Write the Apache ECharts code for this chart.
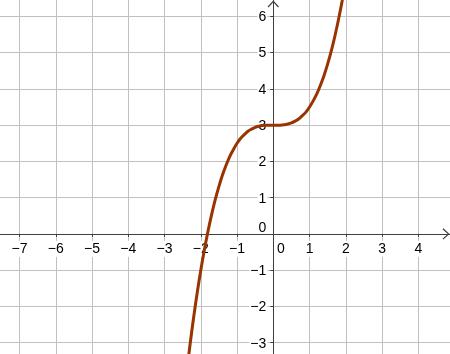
<!DOCTYPE html>
<html><head><meta charset="utf-8">
<script src="https://cdn.jsdelivr.net/npm/echarts@6/dist/echarts.min.js"></script>
<style>html,body{margin:0;padding:0;background:#fff}#c{width:450px;height:354px}</style>
</head><body><div id="c"></div>
<script>
// curve points
const xValues = [-2.4,-2.3,-2.2,-2.1,-2.0,-1.9,-1.8,-1.7,-1.6,-1.5,-1.4,-1.3,-1.2,-1.1,-1.0,-0.9,-0.8,-0.7,-0.6,-0.5,-0.4,-0.3,-0.2,-0.1,0,0.1,0.2,0.3,0.4,0.5,0.6,0.7,0.8,0.9,1.0,1.1,1.2,1.3,1.4,1.5,1.6,1.7,1.8,1.9,2.0];
const yValues = [-3.91,-3.08,-2.32,-1.63,-1.0,-0.43,0.08,0.54,0.95,1.31,1.63,1.90,2.14,2.33,2.5,2.64,2.74,2.83,2.89,2.94,2.97,2.99,3.0,3.0,3.0,3.0,3.0,3.01,3.03,3.06,3.11,3.17,3.26,3.36,3.5,3.67,3.86,4.10,4.37,4.69,5.05,5.46,5.92,6.43,7.0];
const xTickLabels = [-7,-6,-5,-4,-3,-2,-1,0,1,2,3,4];
const yTickLabels = [-3,-2,-1,0,1,2,3,4,5,6];

const FONT = '"Liberation Sans", Arial, sans-serif';
const AX = '#404040';
const GRIDC = '#c0c0c0';
const X0 = 273.3, Y0 = 233.9;          // pixel position of the origin
const XMIN = -7.539, XMAX = 4.875, YMIN = -3.313, YMAX = 6.452;
const curve = xValues.map((x, i) => [x, yValues[i]]);
const fmt = v => (v < 0 ? '\u2212' + Math.abs(v) : String(v));
const tok = {fontSize: 14, fontFamily: FONT, color: '#000'};
const chevron = 'path://M5,0 L10,5.4 L9.2,6.2 L5,1.5 L0.8,6.2 L0,5.4 Z';
const xTickVals = xTickLabels.filter(v => v !== 0);
const yTickVals = yTickLabels.filter(v => v !== 0);
const lblFmt = v => (Math.abs(v) < 1e-9 ? '{z|0}' : '{b|' + fmt(Math.round(v)) + '}');
const hidden = {show: false, axisLine: {show: false}, axisTick: {show: false}, axisLabel: {show: false}, splitLine: {show: false}};
const G = o => Object.assign({outerBoundsMode: 'none', containLabel: false}, o);

const chart = echarts.init(document.getElementById('c'), null, {renderer: 'canvas'});
chart.setOption({
  backgroundColor: '#fff',
  animation: false,
  grid: [
    G({left: -16.7, right: -4.55, top: -19.85, bottom: -24.9}),   // gridlines + curve
    G({left: 0, right: 0, top: 0, bottom: 354 - Y0}),              // x axis
    G({left: X0, right: 0, top: 0, bottom: 0})                     // y axis
  ],
  xAxis: [
    {
      type: 'value', gridIndex: 0, min: -8, max: 5, interval: 1,
      axisLine: {show: false}, axisTick: {show: false}, axisLabel: {show: false},
      splitLine: {show: true, lineStyle: {color: GRIDC, width: 1}}
    },
    {
      type: 'value', gridIndex: 1, min: XMIN, max: XMAX, position: 'bottom',
      axisLine: {show: true, onZero: false, symbol: ['none', chevron], symbolSize: [13, 7], symbolOffset: [0, -4], lineStyle: {color: AX, width: 1}},
      axisTick: {show: true, length: 3, inside: false, customValues: xTickVals, lineStyle: {color: AX}},
      splitLine: {show: false},
      axisLabel: {
        show: true, margin: 7, hideOverlap: false, customValues: xTickLabels, formatter: lblFmt,
        rich: {
          b: Object.assign({backgroundColor: '#fff', padding: [1, 1]}, tok),
          z: Object.assign({padding: [1, 0, 1, 15]}, tok)
        }
      }
    },
    Object.assign({type: 'value', gridIndex: 2, min: 0, max: 1}, hidden)
  ],
  yAxis: [
    {
      type: 'value', gridIndex: 0, min: -4, max: 7, interval: 1,
      axisLine: {show: false}, axisTick: {show: false}, axisLabel: {show: false},
      splitLine: {show: true, lineStyle: {color: GRIDC, width: 1}}
    },
    Object.assign({type: 'value', gridIndex: 1, min: 0, max: 1}, hidden),
    {
      type: 'value', gridIndex: 2, min: YMIN, max: YMAX, position: 'left',
      axisLine: {show: true, onZero: false, symbol: ['none', chevron], symbolSize: [13, 7], symbolOffset: [0, -4], lineStyle: {color: AX, width: 1}},
      axisTick: {show: true, length: 3, inside: false, customValues: yTickVals, lineStyle: {color: AX}},
      splitLine: {show: false},
      axisLabel: {
        show: true, margin: 6, hideOverlap: false, customValues: yTickLabels, formatter: lblFmt,
        rich: {
          b: Object.assign({backgroundColor: '#fff', padding: [2, 1, 0, 1]}, tok),
          z: Object.assign({padding: [1, 1, 12, 1]}, tok)
        }
      }
    }
  ],
  series: [{
    type: 'line', xAxisIndex: 0, yAxisIndex: 0,
    data: curve, showSymbol: false, smooth: 0.3, clip: true,
    lineStyle: {color: '#993300', width: 3},
    z: 5
  }]
});
</script>
</body></html>
